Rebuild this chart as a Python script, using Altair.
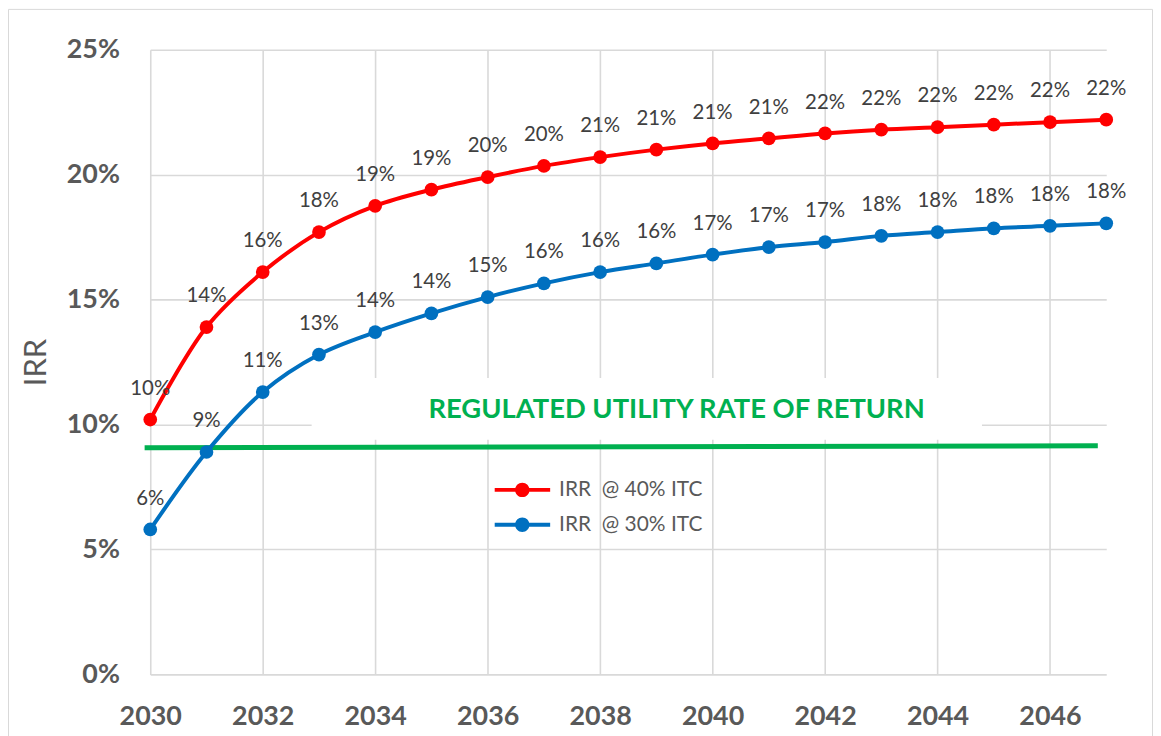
import altair as alt
import pandas as pd

# ---- data ----
years = list(range(2030, 2048))
irr_40 = [10.2, 13.9, 16.1, 17.7, 18.75, 19.4, 19.9, 20.35, 20.7, 21.0,
          21.25, 21.45, 21.65, 21.8, 21.9, 22.0, 22.1, 22.2]
irr_30 = [5.8, 8.9, 11.3, 12.8, 13.7, 14.45, 15.1, 15.65, 16.1, 16.45,
          16.8, 17.1, 17.3, 17.55, 17.7, 17.85, 17.95, 18.05]
series_names = ["IRR\u00a0 @ 40% ITC", "IRR\u00a0 @ 30% ITC"]
series_colors = ["#FF0000", "#0070C0"]
x_ticks = list(range(2030, 2047, 2))
y_ticks = [0, 0.05, 0.10, 0.15, 0.20, 0.25]

rate_years = [2029.9, 2046.85]
rate_values = [9.07, 9.15]
rate_label = ["REGULATED UTILITY RATE OF RETURN"]
rate_label_year = [2039.36]
rate_label_value = [10.59]
label_box_years = [2032.87, 2044.79]
label_box_values = [9.39, 11.86]

W, H = 961, 628
FONT = "Lato"
GRID = "#d9d9d9"

df = pd.DataFrame({
    "year": years + years,
    "irr": [v / 100 for v in irr_40 + irr_30],
    "series": [series_names[0]] * len(years) + [series_names[1]] * len(years),
})
rate_df = pd.DataFrame({"year": rate_years, "irr": [v / 100 for v in rate_values]})
label_df = pd.DataFrame({"year": rate_label_year, "irr": [v / 100 for v in rate_label_value],
                         "txt": rate_label})
box_df = pd.DataFrame({"year": [label_box_years[0]], "year2": [label_box_years[1]],
                       "irr": [label_box_values[0] / 100], "irr2": [label_box_values[1] / 100]})

xscale = alt.Scale(domain=[2030, 2047], nice=False, zero=False)
yscale = alt.Scale(domain=[0, 0.25], nice=False)
cscale = alt.Scale(domain=series_names, range=series_colors)

x_axis = alt.Axis(values=x_ticks, format="d", title=None, grid=True, gridColor=GRID,
                  gridWidth=1.6, ticks=False, tickSize=0, domain=False, labelFlush=False,
                  labelFont=FONT, labelFontSize=27, labelFontWeight="bold",
                  labelColor="#595959", labelPadding=29)
y_axis = alt.Axis(values=y_ticks, format=".0%", title="IRR", grid=True, gridColor=GRID,
                  gridWidth=1.6, ticks=False, tickSize=0, domain=False, labelFlush=False,
                  labelFont=FONT, labelFontSize=27, labelFontWeight="bold",
                  labelColor="#595959", labelPadding=31,
                  titleFont=FONT, titleFontSize=31, titleFontWeight="normal",
                  titleColor="#595959", titleX=-114, titleY=H / 2, titleAngle=-90,
                  titleAlign="center", titleBaseline="middle")


def X(field="year"):
    return alt.X(f"{field}:Q", scale=xscale, axis=x_axis)


def Y(field="irr"):
    return alt.Y(f"{field}:Q", scale=yscale, axis=y_axis)


sym_path = ("M-1,-0.07L-0.25,-0.07L-0.25,0.07L-1,0.07Z "
            "M0.25,-0.07L1,-0.07L1,0.07L0.25,0.07Z "
            "M0.26,0A0.26,0.26,0,1,1,-0.26,0A0.26,0.26,0,1,1,0.26,0Z")
legend = alt.Legend(title=None, orient="none", legendX=346, legendY=426,
                    symbolType=sym_path, symbolSize=3136, symbolStrokeWidth=0,
                    symbolOpacity=1, clipHeight=33, rowPadding=2, padding=0,
                    labelFont=FONT, labelFontSize=21, labelColor="#595959",
                    labelOffset=9)

frame = alt.Chart(pd.DataFrame({"k": [0]})).mark_rect(
    fill="white", fillOpacity=0, stroke=GRID, strokeWidth=1
).encode(x=alt.value(-142.5), x2=alt.value(W + 46.5),
         y=alt.value(-40.5), y2=alt.value(H + 100))

box = alt.Chart(box_df).mark_rect(fill="white").encode(
    x=X(), x2="year2:Q", y=Y(), y2="irr2:Q")

rate_line = alt.Chart(rate_df).mark_line(color="#00B050", strokeWidth=5).encode(
    x=X(), y=Y())

rate_text = alt.Chart(label_df).mark_text(
    font=FONT, fontSize=27.5, fontWeight="bold", color="#00B050", baseline="middle"
).encode(x=X(), y=Y(), text="txt:N")

lines = alt.Chart(df).mark_line(strokeWidth=4, interpolate="catmull-rom").encode(
    x=X(), y=Y(),
    color=alt.Color("series:N", scale=cscale, legend=legend))

points = alt.Chart(df).mark_point(filled=True, size=190, opacity=1).encode(
    x=X(), y=Y(),
    color=alt.Color("series:N", scale=cscale, legend=legend))

labels = alt.Chart(df).mark_text(
    font=FONT, fontSize=20.5, color="#404040", dy=-31, baseline="middle"
).encode(x=X(), y=Y(), text=alt.Text("irr:Q", format=".0%"))

chart = alt.layer(frame, box, rate_line, rate_text, lines, points, labels).properties(
    width=W, height=H,
    autosize=alt.AutoSizeParams(type="none"),
    padding={"left": 143, "top": 40, "right": 47, "bottom": 60},
    background="white",
).configure_view(strokeWidth=0)

chart.save("out.html", embed_options={"renderer": "svg", "actions": False})
